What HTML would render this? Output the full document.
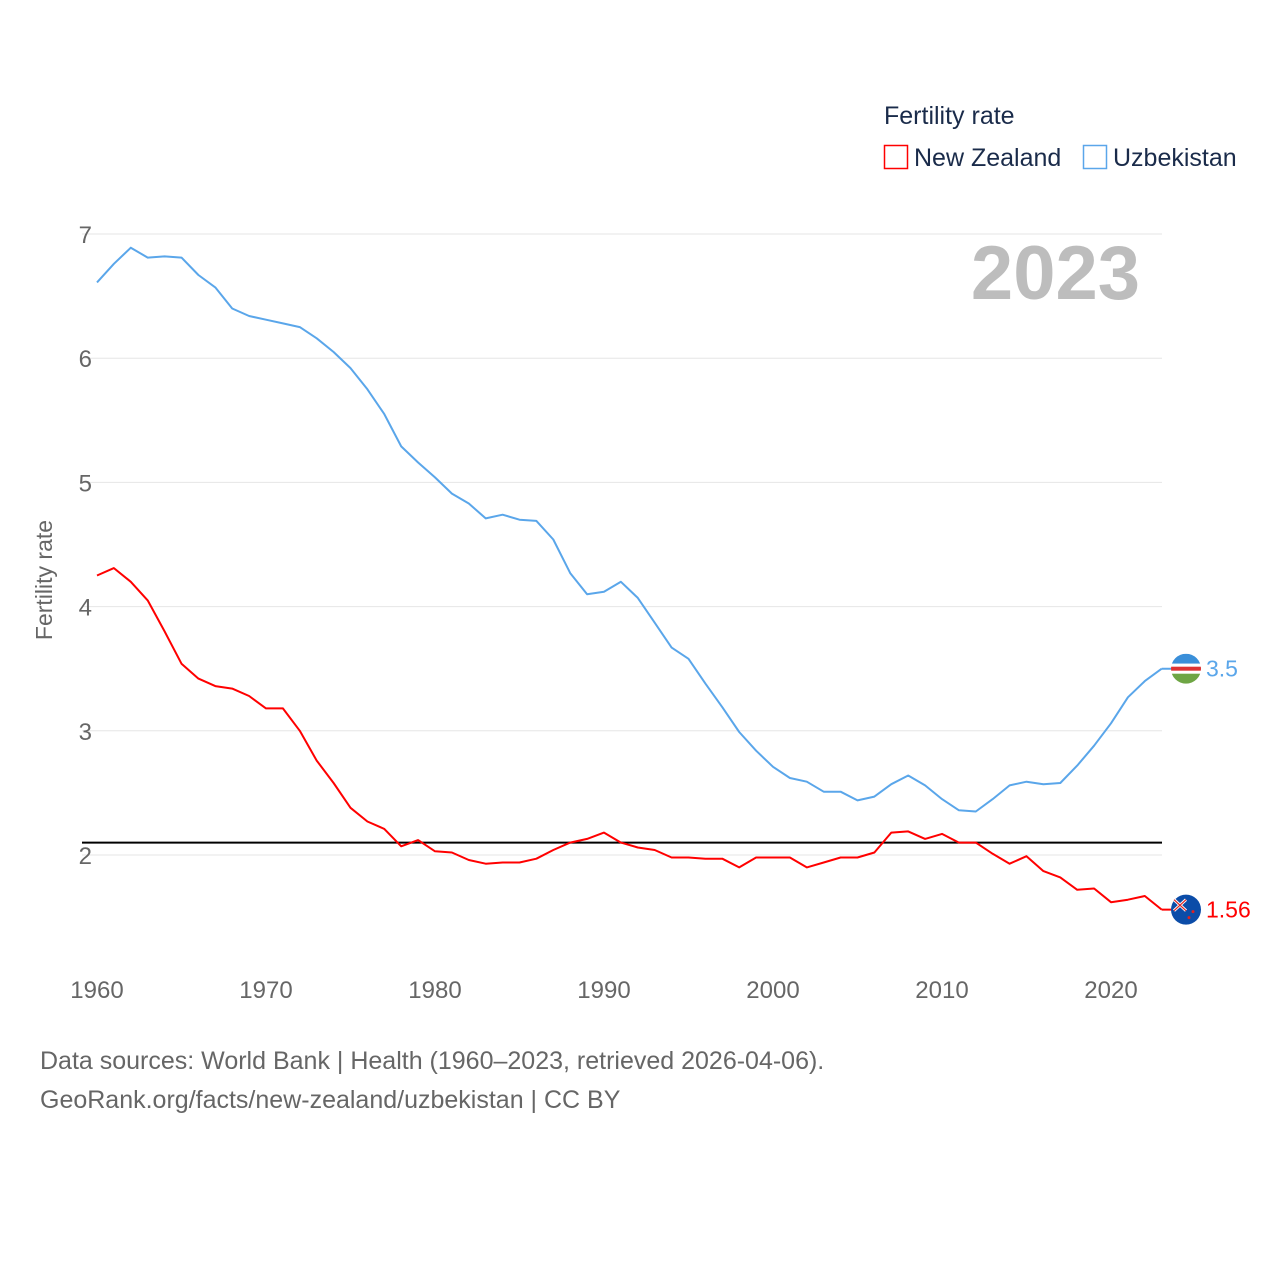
<!DOCTYPE html>
<html><head><meta charset="utf-8">
<style>
body{margin:0;background:#fff;width:1280px;height:1280px;overflow:hidden;font-family:"Liberation Sans",sans-serif;}
</style></head>
<body>
<svg id="chart" width="1280" height="1280" xmlns="http://www.w3.org/2000/svg" font-family="Liberation Sans, sans-serif">
<g id="grid"></g>
<g id="axes"></g>
<text x="1140" y="299" text-anchor="end" font-size="76" font-weight="bold" fill="#bdbdbd">2023</text>
<text x="52" y="580" transform="rotate(-90 52 580)" text-anchor="middle" font-size="23" fill="#666">Fertility rate</text>
<g>
<text x="884" y="124" font-size="25" fill="#1a2b4a">Fertility rate</text>
<g><rect x="884.5" y="145.5" width="23" height="23" fill="none" stroke="#f00" stroke-width="1.5"/><text x="914" y="166" font-size="25" fill="#1a2b4a">New Zealand</text></g>
<g><rect x="1083.5" y="145.5" width="23" height="23" fill="none" stroke="#5aa6ea" stroke-width="1.5"/><text x="1113" y="166" font-size="25" fill="#1a2b4a">Uzbekistan</text></g>
</g>
<g id="series"></g>
<text x="40" y="1069" font-size="25" fill="#666">Data sources: World Bank | Health (1960–2023, retrieved 2026-04-06).</text>
<text x="40" y="1108" font-size="25" fill="#666">GeoRank.org/facts/new-zealand/uzbekistan | CC BY</text>
</svg>
<script>
const years = [];
for (let y = 1960; y <= 2023; y++) years.push(y);
const uzbekistan = [6.61,6.76,6.89,6.81,6.82,6.81,6.67,6.57,6.40,6.34,6.31,6.28,6.25,6.16,6.05,5.92,5.75,5.55,5.29,5.16,5.04,4.91,4.83,4.71,4.74,4.70,4.69,4.54,4.27,4.10,4.12,4.20,4.07,3.87,3.67,3.58,3.38,3.19,2.99,2.84,2.71,2.62,2.59,2.51,2.51,2.44,2.47,2.57,2.64,2.56,2.45,2.36,2.35,2.45,2.56,2.59,2.57,2.58,2.72,2.88,3.06,3.27,3.40,3.50];
const newZealand = [4.25,4.31,4.20,4.05,3.80,3.54,3.42,3.36,3.34,3.28,3.18,3.18,3.00,2.76,2.58,2.38,2.27,2.21,2.07,2.12,2.03,2.02,1.96,1.93,1.94,1.94,1.97,2.04,2.10,2.13,2.18,2.10,2.06,2.04,1.98,1.98,1.97,1.97,1.90,1.98,1.98,1.98,1.90,1.94,1.98,1.98,2.02,2.18,2.19,2.13,2.17,2.10,2.10,2.01,1.93,1.99,1.87,1.82,1.72,1.73,1.62,1.64,1.67,1.56];
const yTicks = [2,3,4,5,6,7];
const xTicks = [1960,1970,1980,1990,2000,2010,2020];
const replacementRate = [2.1];

const NS = "http://www.w3.org/2000/svg";
const xs = y => 97 + (y - 1960) * (1014 / 60);
const ys = v => 855 - (v - 2) * 124.2;
function mk(tag, attrs, parent){const e=document.createElementNS(NS,tag);for(const k in attrs)e.setAttribute(k,attrs[k]);parent.appendChild(e);return e;}
const grid=document.getElementById('grid'), axes=document.getElementById('axes'), series=document.getElementById('series');
yTicks.forEach(t=>{
  const l=mk('line',{x1:82,x2:1162,y1:ys(t),y2:ys(t),stroke:'#e6e6e6','stroke-width':1},grid);
  
  
  const tx=mk('text',{x:92,y:ys(t)+9,'text-anchor':'end','font-size':24,fill:'#666'},axes);
  tx.textContent=t;
  
  
});
xTicks.forEach(t=>{
  const tx=mk('text',{x:xs(t),y:998,'text-anchor':'middle','font-size':24,fill:'#666'},axes);
  tx.textContent=t;
  
  
});
replacementRate.forEach(v=>{
  const l=mk('line',{x1:82,x2:1162,y1:ys(v),y2:ys(v),stroke:'#000','stroke-width':2},series);
  
  
});
function drawLine(vals,color,name){
  const d=vals.map((v,i)=>(i?'L':'M')+xs(years[i]).toFixed(1)+','+ys(v).toFixed(1)).join(' ');
  const p=mk('path',{d:d,fill:'none',stroke:color,'stroke-width':2,'stroke-linejoin':'round'},series);
  
  
  const last=vals[vals.length-1], lx=xs(years[years.length-1]);
  const c=mk('line',{x1:lx,x2:1186,y1:ys(last),y2:ys(last),stroke:color,'stroke-width':2},series);
  
  
  const t=mk('text',{x:1206,y:ys(last)+8,'font-size':23,fill:color},series);
  t.textContent=last;
  
  
  return ys(last);
}
const uy=drawLine(uzbekistan,'#5aa6ea','uzbekistan');
const ny=drawLine(newZealand,'#f00','new-zealand');
// flags
const fu=mk('g',{},series);


mk('clipPath',{id:'cu'},fu).appendChild(document.createElementNS(NS,'circle')).setAttribute('r',15);
document.querySelector('#cu circle').setAttribute('cx',1186);document.querySelector('#cu circle').setAttribute('cy',uy);
mk('rect',{x:1171,y:uy-15,width:30,height:10,fill:'#3a8fd9','clip-path':'url(#cu)'},fu);
mk('rect',{x:1171,y:uy-5,width:30,height:10,fill:'#fff','clip-path':'url(#cu)'},fu);
mk('rect',{x:1171,y:uy-2,width:30,height:4,fill:'#d33','clip-path':'url(#cu)'},fu);
mk('rect',{x:1171,y:uy+5,width:30,height:10,fill:'#6ea544','clip-path':'url(#cu)'},fu);
const fn=mk('g',{},series);


mk('circle',{cx:1186,cy:ny,r:15,fill:'#0b4ca8'},fn);
mk('path',{d:`M1174,${ny-10} L1186,${ny+1} M1186,${ny-10} L1174,${ny+1}`,stroke:'#fff','stroke-width':3},fn);
mk('path',{d:`M1174,${ny-10} L1186,${ny+1} M1186,${ny-10} L1174,${ny+1}`,stroke:'#d22','stroke-width':1.2},fn);
mk('circle',{cx:1193,cy:ny+2,r:1.5,fill:'#d22'},fn);
mk('circle',{cx:1189,cy:ny+8,r:1.5,fill:'#d22'},fn);
</script>
</body></html>
